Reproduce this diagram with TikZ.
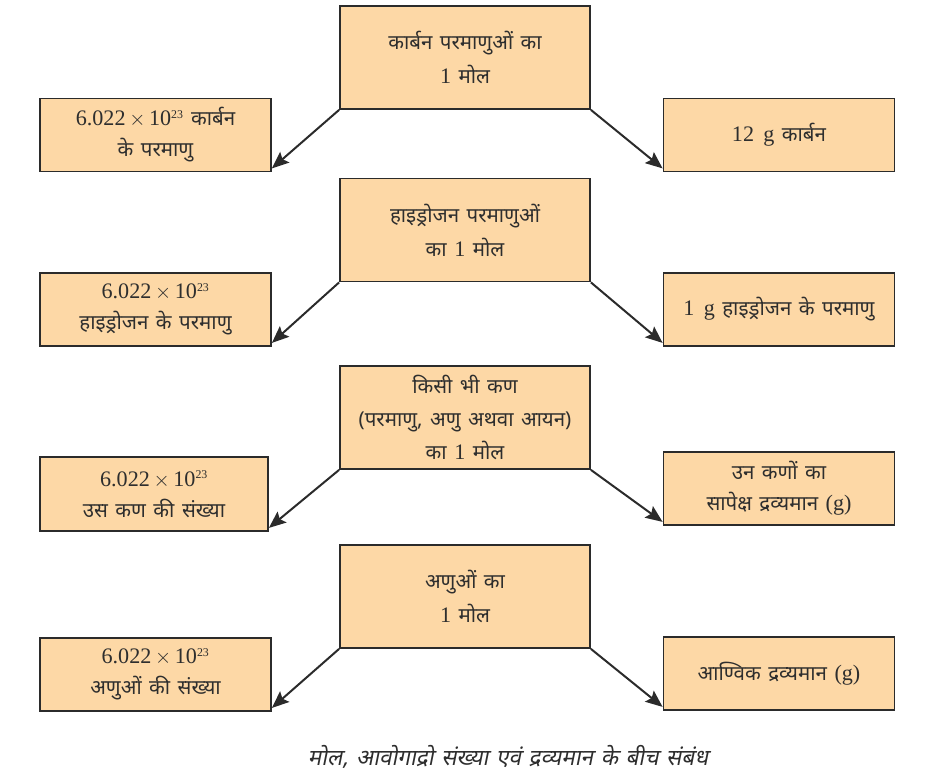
\documentclass[tikz,border=0pt]{standalone}
\usepackage{fontspec}
\setmainfont{Liberation Serif}
\newfontfamily\dev[Script=Devanagari,WordSpace=1.4]{Noto Sans}
\newfontfamily\devit[Script=Devanagari,FakeSlant=0.2,WordSpace=1.3]{Noto Sans}
\newfontfamily\lat[Scale=1.08]{Liberation Serif}
\usetikzlibrary{arrows.meta}
\definecolor{boxfill}{HTML}{FDD8A6}
\definecolor{boxline}{HTML}{2B2B2B}
\definecolor{txt}{HTML}{2E2E2E}
\newcommand{\avo}{{\lat 6.022\,$\times$\,10\textsuperscript{\fontsize{11}{11}\selectfont 23}}}
\begin{document}
\begin{tikzpicture}[x=1pt,y=-1pt,
  box/.style={draw=boxline, fill=boxfill, line width=1.8pt, align=center, inner sep=0pt,
    text=txt, font=\dev\fontsize{20.5}{31}\selectfont},
  cbox/.style={box, minimum width=250pt, minimum height=103pt, font=\dev\fontsize{20.5}{34}\selectfont},
  sbox/.style={box, minimum width=231pt, minimum height=73pt},
  arr/.style={draw=boxline, line width=2pt, -{Stealth[length=17pt,width=14pt,inset=3pt]}}]
\useasboundingbox (0,0) rectangle (925,775);
% row 1
\node[cbox] (c1) at (465,57.5) {कार्बन परमाणुओं का\\{\lat 1} मोल};
\node[sbox] (l1) at (155.5,135) {\avo{} कार्बन\\के परमाणु};
\node[sbox] (r1) at (779,135) {{\lat 12 \,g} कार्बन};
% row 2
\node[cbox] (c2) at (465,230) {हाइड्रोजन परमाणुओं\\का {\lat 1} मोल};
\node[sbox] (l2) at (155.5,309.5) {\avo\\हाइड्रोजन के परमाणु};
\node[sbox] (r2) at (779,309.5) {{\lat 1 \,g} हाइड्रोजन के परमाणु};
% row 3
\node[cbox, font=\dev\fontsize{20.5}{33}\selectfont] (c3) at (465,417.5) {किसी भी कण\\(परमाणु, अणु अथवा आयन)\\का {\lat 1} मोल};
\node[sbox, minimum width=228pt, minimum height=74pt] (l3) at (154,494) {\avo\\उस कण की संख्या};
\node[sbox] (r3) at (779,488.5) {उन कणों का\\सापेक्ष द्रव्यमान {\lat (g)}};
% row 4
\node[cbox] (c4) at (465,596.5) {अणुओं का\\{\lat 1} मोल};
\node[sbox] (l4) at (155.5,674.5) {\avo\\अणुओं की संख्या};
\node[sbox] (r4) at (779,673.5) {आण्विक द्रव्यमान {\lat (g)}};
% arrows
\foreach \i in {1,2,3,4}{
  \draw[arr] (c\i.south west) -- ([yshift=4pt]l\i.south east);
  \draw[arr] (c\i.south east) -- ([yshift=4pt]r\i.south west);
}
% caption
\node[text=txt, font=\devit\fontsize{22.5}{26}\selectfont] (cap) at (508,757) {मोल, आवोगाद्रो संख्या एवं द्रव्यमान के बीच संबंध};
\end{tikzpicture}
\end{document}
